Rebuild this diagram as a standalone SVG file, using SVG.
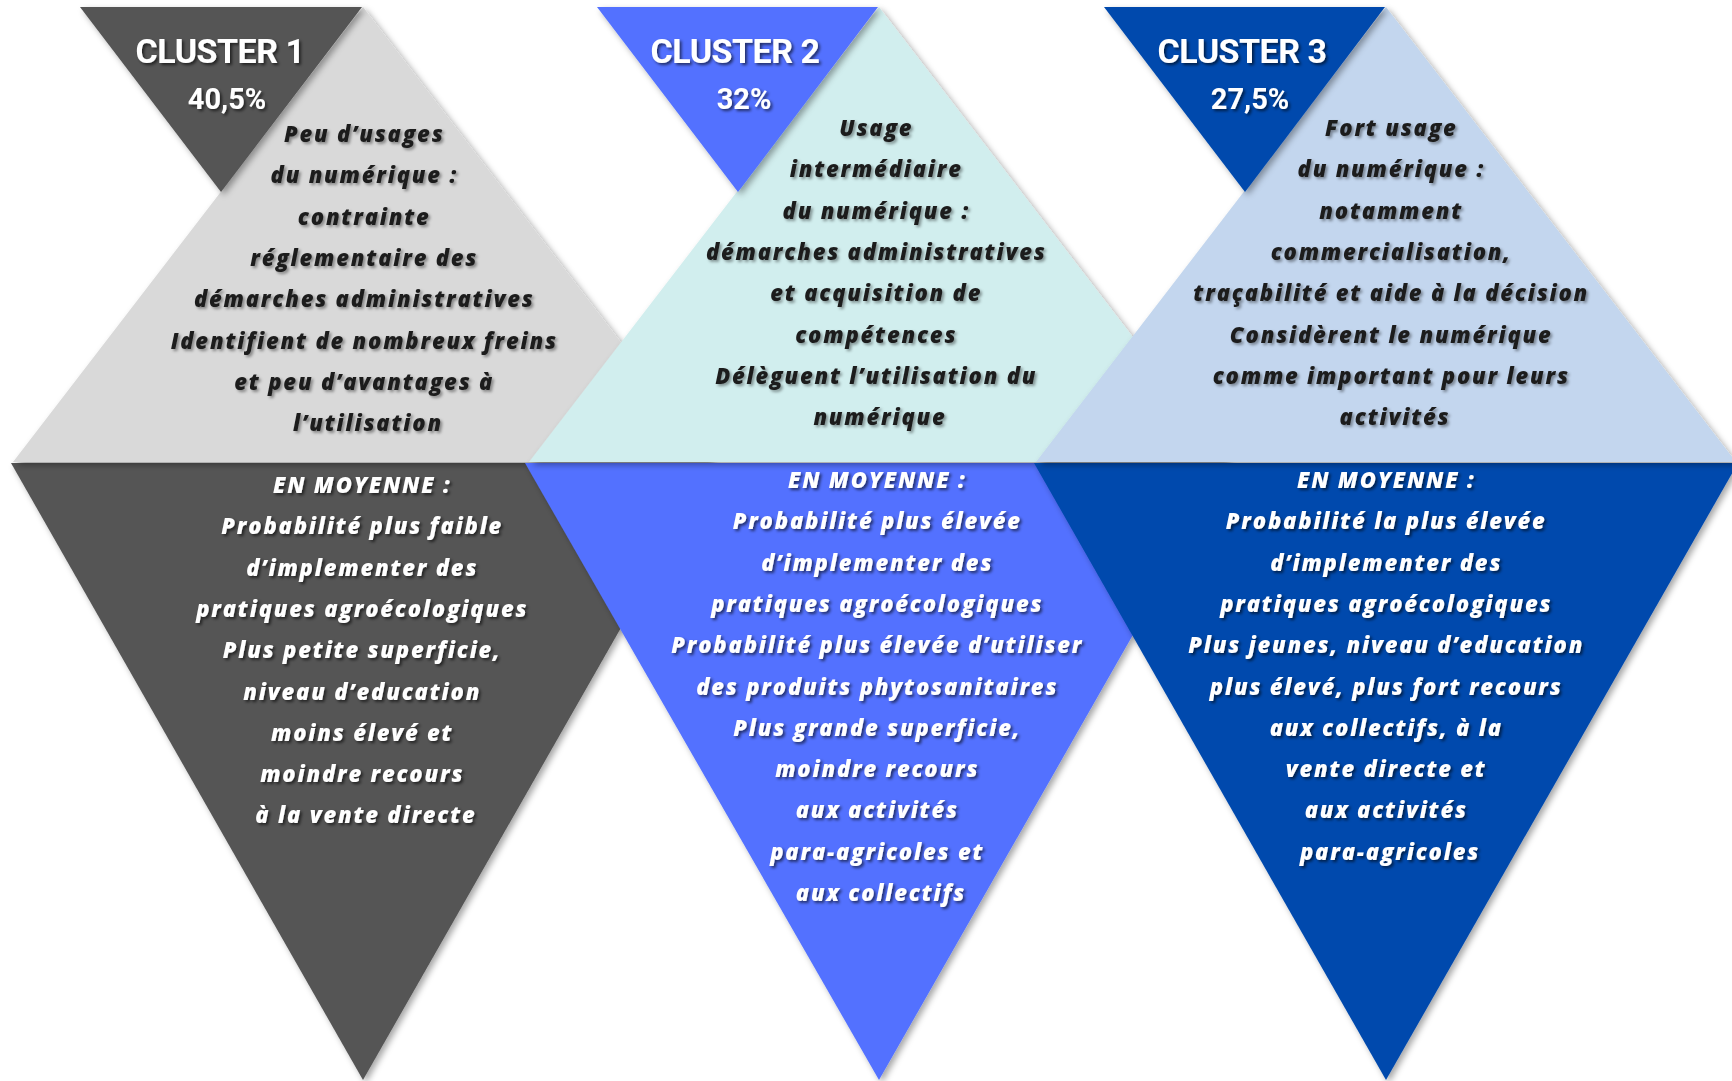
<svg xmlns="http://www.w3.org/2000/svg" width="1732" height="1081" viewBox="0 0 1732 1081">
  <defs>
    <filter id="shapeShadow" x="-10%" y="-10%" width="125%" height="125%">
      <feDropShadow dx="3" dy="3" stdDeviation="3" flood-color="#000" flood-opacity="0.35"/>
    </filter>
    <filter id="darkTextShadow" x="-5%" y="-20%" width="110%" height="150%">
      <feDropShadow dx="2" dy="2" stdDeviation="1.5" flood-color="#000" flood-opacity="0.4"/>
    </filter>
    <filter id="lightTextShadow" x="-5%" y="-20%" width="110%" height="150%">
      <feDropShadow dx="2" dy="2" stdDeviation="1.5" flood-color="#000" flood-opacity="0.6"/>
    </filter>
  </defs>
  <style>
    .title { font-family: Roboto, "Liberation Sans", sans-serif; font-weight: 700; fill: #ffffff; text-anchor: middle; filter: url(#lightTextShadow); }
    .name { font-size: 34px; letter-spacing: -0.5px; }
    .pct { font-size: 29px; }
    .body { font-family: "Open Sans", "Noto Sans", sans-serif; font-weight: 800; font-style: italic; font-size: 22px; letter-spacing: 1.8px; text-anchor: middle; }
    .dark { fill: #1c1c1c; filter: url(#darkTextShadow); }
    .light { fill: #ffffff; filter: url(#lightTextShadow); }
    .shape { filter: url(#shapeShadow); }
  </style>
  <rect width="1732" height="1081" fill="#ffffff"/>

  <!-- Cluster 1 -->
  <g id="cluster-1">
    <polygon class="shape" points="11,463 715,463 363,1080" fill="#545454"/>
    <polygon class="shape" points="363,7 713,462 13,462" fill="#d9d9d9"/>
    <polygon class="shape" points="80,7 362,7 221,192" fill="#545454"/>
    <text class="title name" x="220" y="63">CLUSTER 1</text>
    <text class="title pct" x="227" y="109">40,5%</text>
    <text class="body dark" x="368" y="142">
      <tspan x="368">Peu d’usages</tspan>
      <tspan x="368" dy="41.3">du numérique :</tspan>
      <tspan x="368" dy="41.3">contrainte</tspan>
      <tspan x="368" dy="41.3">réglementaire des</tspan>
      <tspan x="368" dy="41.3">démarches administratives</tspan>
      <tspan x="368" dy="41.3">Identifient de nombreux freins</tspan>
      <tspan x="368" dy="41.3">et peu d’avantages à</tspan>
      <tspan x="368" dy="41.3">l’utilisation</tspan>
    </text>
    <text class="body light" x="366" y="493">
      <tspan x="366">EN MOYENNE :</tspan>
      <tspan x="366" dy="41.3">Probabilité plus faible</tspan>
      <tspan x="366" dy="41.3">d’implementer des</tspan>
      <tspan x="366" dy="41.3">pratiques agroécologiques</tspan>
      <tspan x="366" dy="41.3">Plus petite superficie,</tspan>
      <tspan x="366" dy="41.3">niveau d’education</tspan>
      <tspan x="366" dy="41.3">moins élevé et</tspan>
      <tspan x="366" dy="41.3">moindre recours</tspan>
      <tspan x="366" dy="41.3">à la vente directe</tspan>
    </text>
  </g>

  <!-- Cluster 2 -->
  <g id="cluster-2">
    <polygon class="shape" points="525,463 1231,463 879,1080" fill="#5271ff"/>
    <polygon class="shape" points="879,7 1229,462 529,462" fill="#d1eeee"/>
    <polygon class="shape" points="597,7 878,7 738,192" fill="#5271ff"/>
    <text class="title name" x="735" y="63">CLUSTER 2</text>
    <text class="title pct" x="744" y="109">32%</text>
    <text class="body dark" x="880" y="136">
      <tspan x="880">Usage</tspan>
      <tspan x="880" dy="41.3">intermédiaire</tspan>
      <tspan x="880" dy="41.3">du numérique :</tspan>
      <tspan x="880" dy="41.3">démarches administratives</tspan>
      <tspan x="880" dy="41.3">et acquisition de</tspan>
      <tspan x="880" dy="41.3">compétences</tspan>
      <tspan x="880" dy="41.3">Délèguent l’utilisation du</tspan>
      <tspan x="880" dy="41.3">numérique</tspan>
    </text>
    <text class="body light" x="881" y="488">
      <tspan x="881">EN MOYENNE :</tspan>
      <tspan x="881" dy="41.3">Probabilité plus élevée</tspan>
      <tspan x="881" dy="41.3">d’implementer des</tspan>
      <tspan x="881" dy="41.3">pratiques agroécologiques</tspan>
      <tspan x="881" dy="41.3">Probabilité plus élevée d’utiliser</tspan>
      <tspan x="881" dy="41.3">des produits phytosanitaires</tspan>
      <tspan x="881" dy="41.3">Plus grande superficie,</tspan>
      <tspan x="881" dy="41.3">moindre recours</tspan>
      <tspan x="881" dy="41.3">aux activités</tspan>
      <tspan x="881" dy="41.3">para-agricoles et</tspan>
      <tspan x="881" dy="41.3">aux collectifs</tspan>
    </text>
  </g>

  <!-- Cluster 3 -->
  <g id="cluster-3">
    <polygon class="shape" points="1034,463 1738,463 1386,1080" fill="#004aad"/>
    <polygon class="shape" points="1386,7 1736,462 1036,462" fill="#c3d6ee"/>
    <polygon class="shape" points="1104,7 1385,7 1245,192" fill="#004aad"/>
    <text class="title name" x="1242" y="63">CLUSTER 3</text>
    <text class="title pct" x="1250" y="109">27,5%</text>
    <text class="body dark" x="1395" y="136">
      <tspan x="1395">Fort usage</tspan>
      <tspan x="1395" dy="41.3">du numérique :</tspan>
      <tspan x="1395" dy="41.3">notamment</tspan>
      <tspan x="1395" dy="41.3">commercialisation,</tspan>
      <tspan x="1395" dy="41.3">traçabilité et aide à la décision</tspan>
      <tspan x="1395" dy="41.3">Considèrent le numérique</tspan>
      <tspan x="1395" dy="41.3">comme important pour leurs</tspan>
      <tspan x="1395" dy="41.3">activités</tspan>
    </text>
    <text class="body light" x="1390" y="488">
      <tspan x="1390">EN MOYENNE :</tspan>
      <tspan x="1390" dy="41.3">Probabilité la plus élevée</tspan>
      <tspan x="1390" dy="41.3">d’implementer des</tspan>
      <tspan x="1390" dy="41.3">pratiques agroécologiques</tspan>
      <tspan x="1390" dy="41.3">Plus jeunes, niveau d’education</tspan>
      <tspan x="1390" dy="41.3">plus élevé, plus fort recours</tspan>
      <tspan x="1390" dy="41.3">aux collectifs, à la</tspan>
      <tspan x="1390" dy="41.3">vente directe et</tspan>
      <tspan x="1390" dy="41.3">aux activités</tspan>
      <tspan x="1390" dy="41.3">para-agricoles</tspan>
    </text>
  </g>
</svg>
